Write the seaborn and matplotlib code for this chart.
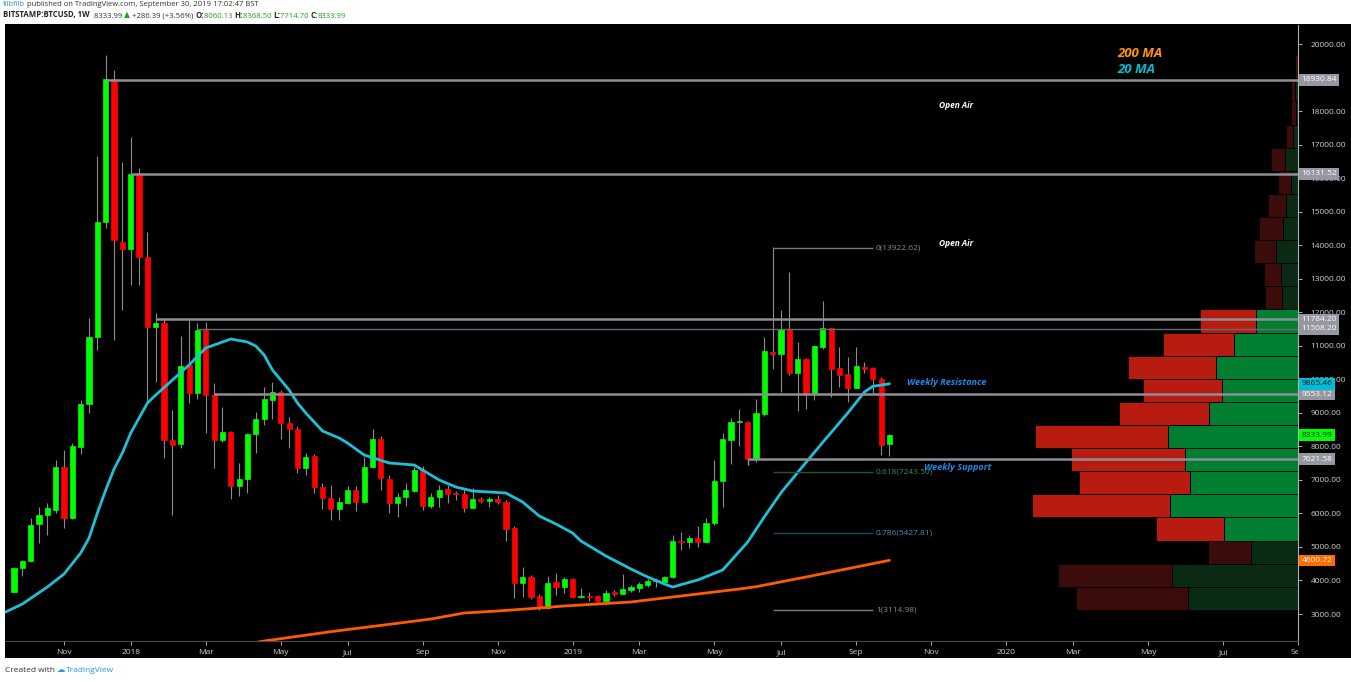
import numpy as np
import pandas as pd
import seaborn as sns
import matplotlib.pyplot as plt
from matplotlib.patches import Rectangle
from matplotlib.transforms import Bbox, TransformedBbox

# 주봉 캔들 (2017-09-25 주부터 2019-09-30 주까지)
first_week = '2017-09-25'
opens = [3656, 4372, 4581, 5685, 5953, 6100, 7385, 5860, 7980, 9265,
         11262, 14690, 18956, 14095, 13886, 16150, 13650, 11560, 11680, 8190,
         8070, 10430, 9590, 11470, 9530, 8190, 8437, 6818, 7017, 8357,
         8805, 9383, 9630, 8687, 8508, 7345, 7712, 6780, 6450, 6130,
         6320, 6700, 6350, 7395, 8210, 7017, 6300, 6480, 6680, 7295,
         6220, 6480, 6720, 6620, 6570, 6170, 6420, 6380, 6420, 6350,
         5557, 3916, 4095, 3537, 3170, 3950, 3820, 4035, 3517, 3547,
         3537, 3388, 3656, 3597, 3716, 3765, 3865, 3985, 3965, 4095,
         5190, 5160, 5280, 5160, 5705, 6975, 8190, 8735, 8735, 7645,
         8965, 10825, 10755, 11490, 10180, 10605, 9580, 10975, 11540, 10330,
         10150, 9750, 10375, 10330, 10010, 8060.13]
highs = [4400, 4600, 5863, 6190, 6310, 7593, 7890, 8090, 9383, 11830,
         16660, 19670, 19225, 16480, 17230, 16300, 14390, 11980, 11830, 9080,
         11290, 11768, 11670, 11710, 9890, 9183, 8460, 7513, 8400, 9034,
         9780, 9928, 9681, 8885, 8607, 7790, 7763, 6900, 6847, 6500,
         6818, 6820, 7674, 8508, 8309, 7146, 6617, 6900, 7396, 7415,
         6600, 6847, 6847, 6680, 6720, 6748, 6500, 6500, 6550, 6400,
         5620, 4411, 4150, 3587, 4145, 4232, 4115, 4080, 3766, 3666,
         3560, 3716, 3716, 4193, 3865, 3965, 4035, 4080, 4130, 5357,
         5457, 5357, 5625, 5855, 7593, 8390, 8837, 9105, 8760, 9404,
         11253, 13936, 12067, 13210, 11120, 10627, 10993, 12330, 11540, 10954,
         10655, 10954, 10525, 10375, 10078, 8368.50]
lows = [3620, 4130, 4545, 5118, 5356, 6013, 5565, 5840, 7772, 8995,
        10874, 14500, 11172, 12070, 12813, 12813, 9290, 9920, 7650, 5950,
        7950, 9290, 9403, 8398, 7355, 8140, 6420, 6520, 6617, 7810,
        8637, 8805, 8210, 7942, 7215, 7146, 6617, 6132, 5804, 5800,
        6281, 6082, 6320, 7345, 6698, 6003, 5900, 6221, 6650, 6102,
        6153, 6200, 6320, 6400, 6052, 6170, 6300, 6201, 6280, 5187,
        3487, 3517, 3450, 3120, 3150, 3567, 3636, 3468, 3468, 3398,
        3318, 3338, 3537, 3597, 3666, 3666, 3815, 3810, 3950, 4060,
        4910, 4960, 5010, 5140, 5650, 6200, 7474, 8010, 7444, 7543,
        8900, 10298, 9630, 10130, 9063, 9105, 9383, 10900, 9481, 9761,
        9332, 9750, 10200, 9600, 7743, 7714.70]
closes = [4372, 4580, 5655, 5953, 6160, 7385, 5860, 8010, 9265, 11260,
          14690, 18956, 14155, 13886, 16120, 13650, 11560, 11680, 8190, 8040,
          10400, 9590, 11470, 9530, 8190, 8437, 6818, 7017, 8357, 8805,
          9400, 9630, 8687, 8508, 7345, 7692, 6780, 6450, 6130, 6350,
          6700, 6350, 7395, 8210, 7047, 6300, 6480, 6700, 7295, 6220,
          6480, 6700, 6580, 6570, 6170, 6420, 6380, 6420, 6350, 5535,
          3916, 4095, 3517, 3190, 3936, 3820, 4045, 3517, 3547, 3517,
          3388, 3636, 3597, 3735, 3795, 3895, 3985, 4000, 4095, 5190,
          5160, 5280, 5160, 5705, 6975, 8210, 8735, 8760, 7615, 8985,
          10845, 10755, 11490, 10180, 10605, 9580, 10990, 11540, 10310, 10130,
          9750, 10400, 10300, 10000, 8040, 8333.99]

# 이동평균
ma20_week = [-1, 1, 4, 6, 8, 9, 10, 11, 12, 13, 14, 15, 16, 17, 19, 21, 23, 25, 26,
             28, 29, 30, 31, 33, 34, 35, 37, 39, 40, 42, 45, 48, 49, 51, 53, 55, 59,
             61, 63, 65, 67, 68, 71, 74, 76, 78, 79, 82, 85, 88, 90, 92, 95, 97, 100,
             102, 103, 105]
ma20 = [3060, 3298, 3806, 4193, 4820, 5267, 6013, 6699, 7325, 7802, 8398, 8846, 9293,
        9532, 9979, 10427, 10934, 11112, 11202, 11112, 10993, 10725, 10277, 9681, 9293,
        8995, 8458, 8249, 8100, 7742, 7504, 7444, 7295, 6997, 6788, 6669, 6609, 6341,
        5923, 5684, 5416, 5177, 4730, 4342, 4104, 3895, 3805, 4014, 4313, 5148, 5900,
        6620, 7525, 8120, 8995, 9621, 9790, 9865.46]
ma200_week = [29, 30, 38, 46, 50, 54, 58, 63, 66, 70, 74, 77, 87, 89, 95, 105]
ma200 = [2150, 2195, 2473, 2723, 2851, 3030, 3090, 3179, 3239, 3299, 3358, 3448,
         3746, 3814, 4104, 4600.72]

# 볼륨 프로파일 (24 구간, 아래에서 위로)
vp_low, vp_high = 3122, 19666
vp_up = [110, 126.3, 47.3, 74.3, 128, 108.3, 112.6, 129.6, 89.3, 76, 82, 64.3, 42,
         15.6, 17.3, 22, 15.3, 12, 6.6, 12.6, 5, 2, 2.6, 0.3]
vp_down = [111.6, 113, 43, 67.7, 138, 110, 114, 133, 89.3, 79, 87.3, 70.7, 56.3,
           17.7, 16.7, 21.6, 24, 18.3, 13.7, 14.7, 7, 4.6, 4, 2.3]
value_area = list(range(3, 13))

# 수평선
level_prices = [18930.84, 16131.52, 11784.20, 11508.20, 9553.12, 7621.58]
level_start = [11, 14, 17, 22, 24, 88]

# 피보나치
fib_names = ['0', '0.618', '0.786', '1']
fib_prices = [13922.62, 7243.50, 5427.81, 3114.98]

sns.set_style('dark')
plt.rcParams['font.family'] = ['Open Sans', 'DejaVu Sans']

W, H = 1351, 682
fig = plt.figure(figsize=(W / 100, H / 100), dpi=100, facecolor='white')
fig.add_artist(Rectangle((5 / W, 24 / H), 1 - 5 / W, (658 - 24) / H,
                         transform=fig.transFigure, facecolor='black', edgecolor='none', zorder=0))
ax = fig.add_axes([5 / W, 41 / H, 1293 / W, 616 / H])
ax.set_facecolor('black')

n = len(opens)
idx = np.arange(n)
o = np.array(opens, dtype=float)
c = np.array(closes, dtype=float)
up = c >= o
colors = np.where(up, '#00ff00', '#ff0000')

# 볼륨 프로파일 (오른쪽 twin 축)
ax2 = ax.twiny()
bin_h = (vp_high - vp_low) / len(vp_up)
bottoms = vp_low + np.arange(len(vp_up)) * bin_h
tot = np.array(vp_up) + np.array(vp_down)
for i in range(len(vp_up)):
    bright = i in value_area
    gcol = '#007f30' if bright else '#0a2a14'
    rcol = '#b81c10' if bright else '#3c0c0a'
    ax2.barh(bottoms[i], vp_up[i], height=bin_h, left=0, align='edge',
             color=gcol, edgecolor='black', linewidth=0.6, zorder=1)
    ax2.barh(bottoms[i], vp_down[i], height=bin_h, left=vp_up[i], align='edge',
             color=rcol, edgecolor='black', linewidth=0.6, zorder=1)
ax2.set_xlim(tot.max() / 0.206, 0)
ax2.axis('off')
ax2.set_zorder(0)
ax.set_zorder(1)
ax.patch.set_visible(False)
ax2.set_facecolor('black')

# 캔들
ax.vlines(idx, lows, highs, color='#8c8c8c', linewidth=0.8, zorder=3)
ax.bar(idx, np.abs(c - o), bottom=np.minimum(o, c), width=0.62, color=colors,
       edgecolor=colors, linewidth=0.5, zorder=4)

# 이동평균
sns.lineplot(x=ma20_week, y=ma20, ax=ax, color='#1ec0d8', linewidth=2.0, zorder=5)
sns.lineplot(x=ma200_week, y=ma200, ax=ax, color='#ff5a00', linewidth=2.0, zorder=5)

# 수평선
xmax = 153.96
for p, s in zip(level_prices, level_start):
    thin = p == 11508.20
    ax.hlines(p, s, xmax, color='#6a6a72' if thin else '#8e8e96',
              linewidth=1.0 if thin else 1.8, zorder=6)
ax.vlines(88, 7440, 7621.58, color='#8e8e96', linewidth=1.0, zorder=6)

# 피보나치
fib_line_cols = ['#7a7a7a', '#1d5a3c', '#174e70', '#7a7a7a']
fib_text_cols = ['#8a8a8a', '#3a8a5a', '#4a8cc0', '#8a8a8a']
for nm, p, lc, tc in zip(fib_names, fib_prices, fib_line_cols, fib_text_cols):
    ax.hlines(p, 91, 103, color=lc, linewidth=1.0, zorder=6)
    ax.text(103.4, p, '%s(%.2f)' % (nm, p), color=tc, fontsize=6, va='center', ha='left', zorder=7)

# 주석
ax.text(113, 18181, 'Open Air', color='white', fontsize=6, fontweight='bold', style='italic',
        ha='center', va='center', zorder=7)
ax.text(113, 14065, 'Open Air', color='white', fontsize=6, fontweight='bold', style='italic',
        ha='center', va='center', zorder=7)
ax.text(107.1, 9890, 'Weekly Resistance', color='#1e88e5', fontsize=6.6, fontweight='bold',
        style='italic', ha='left', va='center', zorder=7)
ax.text(109.2, 7384, 'Weekly Support', color='#1e88e5', fontsize=6.6, fontweight='bold',
        style='italic', ha='left', va='center', zorder=7)
ax.text(0.86, 0.953, '200 MA', transform=ax.transAxes, color='#ff9800', fontsize=9.5,
        fontweight='bold', style='italic', ha='left', va='center', zorder=7)
ax.text(0.86, 0.927, '20 MA', transform=ax.transAxes, color='#00bcd4', fontsize=9.5,
        fontweight='bold', style='italic', ha='left', va='center', zorder=7)

# 축
ax.set_xlim(-1.08, xmax)
ax.set_ylim(2195, 20567)
ax.yaxis.tick_right()
ytv = [v for v in range(3000, 20001, 1000) if v != 19000]
ax.set_yticks(ytv)
ax.set_yticklabels(['%.2f' % v for v in ytv])

weeks = pd.date_range(first_week, periods=170, freq='W-MON')
month_starts = pd.date_range('2017-11-01', '2020-09-01', freq='2MS')
xt, xl = [], []
for m in month_starts:
    pos = int(np.argmax(weeks >= m))
    xt.append(pos)
    xl.append(str(m.year) if m.month == 1 else m.strftime('%b'))
ax.set_xticks(xt)
ax.set_xticklabels(xl)
ax.tick_params(axis='both', colors='#c8c8c8', labelsize=6, length=3, width=0.6, pad=3)
ax.tick_params(axis='x', labelcolor='#d0d0d0')
ax.tick_params(axis='y', labelcolor='#d0d0d0', pad=6)
clip = TransformedBbox(Bbox([[0, 0], [1298 / W, 1]]), fig.transFigure)
for lab in ax.get_xticklabels():
    lab.set_clip_box(clip)
    lab.set_clip_on(True)
for side in ['top', 'left']:
    ax.spines[side].set_visible(False)
ax.spines['bottom'].set_color('#4a4a4a')
ax.spines['right'].set_color('#b0b0b0')
ax.spines['right'].set_linewidth(0.8)
ax.grid(False)
ax.set_xlabel('')
ax.set_ylabel('')

# 오른쪽 가격 라벨
tags = [(p, '#9598a1', 'white') for p in level_prices]
tags += [(9865.46, '#00bcd4', '#0a1a20'), (8333.99, '#00ff00', '#002200'),
         (4600.72, '#ff6d00', 'white')]
for p, fc, tc in tags:
    ax.annotate('%.2f' % p, xy=(1, p), xycoords=('axes fraction', 'data'),
                xytext=(2.5, 0), textcoords='offset points', ha='left', va='center',
                fontsize=6, color=tc, annotation_clip=False, zorder=10,
                bbox=dict(boxstyle='square,pad=0.28', fc=fc, ec='none'))

# 머리글 / 바닥글
def chain(parts, x, y, size):
    t = fig.text(x, y, parts[0][0], color=parts[0][1], fontsize=size,
                 fontweight=parts[0][2], va='center', ha='left')
    for s, col, wt in parts[1:]:
        t = ax.annotate(s, xy=(1, 0), xycoords=t, xytext=(0, 0), textcoords='offset points',
                        ha='left', va='bottom', color=col, fontsize=size, fontweight=wt,
                        annotation_clip=False)

chain([('filbfilb', '#3d85c6', 'normal'),
       (' published on TradingView.com, September 30, 2019 17:02:47 BST', '#333333', 'normal')],
      3 / W, 1 - 5 / H, 5.5)
g = '#1ea01e'
chain([('BITSTAMP:BTCUSD, 1W', '#222222', 'bold'), ('  8333.99 ', '#333333', 'normal'),
       ('\u25b2', g, 'normal'), (' +286.39 (+3.56%) ', '#333333', 'normal'),
       ('O:', '#222222', 'bold'), ('8060.13 ', g, 'normal'), ('H:', '#222222', 'bold'),
       ('8368.50 ', g, 'normal'), ('L:', '#222222', 'bold'), ('7714.70 ', g, 'normal'),
       ('C:', '#222222', 'bold'), ('8333.99', g, 'normal')],
      3 / W, 1 - 15 / H, 5.6)
chain([('Created with ', '#333333', 'normal'), ('\u2601', '#2196f3', 'normal'),
       ('TradingView', '#2196f3', 'normal')], 5 / W, 1 - 670 / H, 6)

plt.savefig('out.png', dpi=100, facecolor='white')
